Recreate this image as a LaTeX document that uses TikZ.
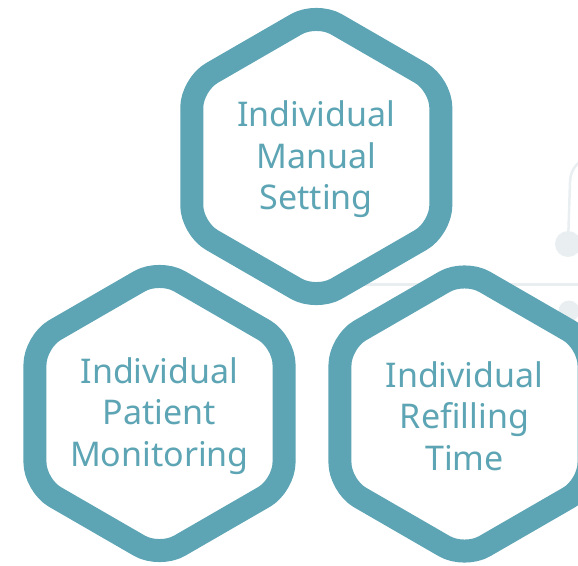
\documentclass[tikz,border=0pt]{standalone}
\usepackage{fontspec}
\setmainfont{Noto Sans}
\usetikzlibrary{calc}
\definecolor{teal1}{HTML}{5DA5B4}
\definecolor{grey1}{HTML}{E9EEF1}
\tikzset{
  hexline/.style={draw=teal1, line width=23pt, fill=white, rounded corners=23pt, line join=round},
  lbl/.style={text=teal1, align=center, inner sep=0pt, font=\fontsize{34}{41.5}\selectfont},
  greyline/.style={draw=grey1, line width=2.5pt},
  greydot/.style={fill=grey1, draw=none}
}
\newcommand{\hexaround}[1]{%
  \path[hexline] ($(#1)+(90:143.8pt)$) -- ($(#1)+(150:143.8pt)$) -- ($(#1)+(210:143.8pt)$)
    -- ($(#1)+(270:143.8pt)$) -- ($(#1)+(330:143.8pt)$) -- ($(#1)+(30:143.8pt)$) -- cycle;}
\begin{document}
\begin{tikzpicture}[x=1pt,y=-1pt]
\useasboundingbox (0,0) rectangle (578,565);
% faint background elements
\coordinate (gb) at (570,182);
\node[greydot, circle, minimum size=26pt, inner sep=0pt] (d1) at (568,244) {};
\node[greydot, circle, minimum size=21pt, inner sep=0pt] (d2) at (569,311) {};
\draw[greyline] (d1.center) -- (gb) arc[start angle=180, end angle=270, radius=26];
\coordinate (h1) at (350,284.5);
\coordinate (h2) at (600,284.5);
\draw[greyline] (h1) -- (h2);
% centres
\coordinate (tc) at (316.3,156.5);
\coordinate (lc) at (159.5,413.5);
\coordinate (rc) at (464.5,414);
\hexaround{tc}
\hexaround{lc}
\hexaround{rc}
\node[lbl] (top) at ($(tc)+(0,3)$) {Individual\\Manual\\Setting};
\node[lbl] (left) at ($(lc)+(0,2.5)$) {Individual\\Patient\\Monitoring};
\node[lbl] (right) at ($(rc)+(0,2)$) {Individual\\Refilling\\Time};
\end{tikzpicture}
\end{document}
